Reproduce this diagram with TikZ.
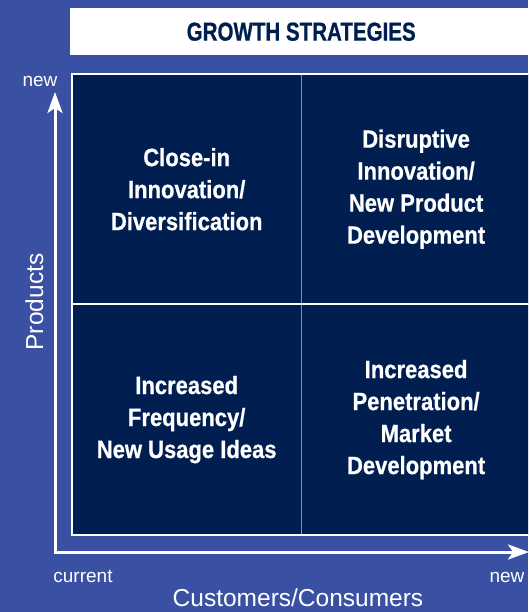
\documentclass[tikz,border=0pt]{standalone}
\usepackage{fontspec}
\setmainfont{Liberation Sans}
\newfontfamily\condfont[FakeStretch=0.88, BoldFeatures={FakeBold=0.6}]{Liberation Sans}
\newfontfamily\titlefont[FakeStretch=0.79, BoldFeatures={FakeBold=0.6}]{Liberation Sans}
\usetikzlibrary{positioning,arrows.meta}
\definecolor{bgblue}{HTML}{3A51A3}
\definecolor{navy}{HTML}{001E4F}
\definecolor{divgray}{HTML}{8390AE}

\begin{document}
\begin{tikzpicture}[x=1pt, y=-1pt,
    cell/.style={fill=navy, text=white, minimum width=229pt, minimum height=230pt,
      align=center, inner sep=0pt, font=\condfont\bfseries\fontsize{25}{32}\selectfont},
    axis/.style={white, line width=3pt,
      {Stealth[length=21pt,width=15pt,inset=5pt]}-{Stealth[length=21pt,width=15pt,inset=5pt]}},
    small/.style={text=white, inner sep=0pt, anchor=base, font=\fontsize{19}{22}\selectfont},
    big/.style={text=white, inner sep=0pt, anchor=base, font=\fontsize{24.5}{28}\selectfont}]
  \useasboundingbox[fill=bgblue] (0,0) rectangle (528,612);
  \clip (0,0) rectangle (528,612);

  \node[fill=white, text=navy, anchor=north west, minimum width=462pt, minimum height=47pt,
    font=\titlefont\bfseries\fontsize{26}{30}\selectfont] (title) at (70,8) {GROWTH STRATEGIES};

  % the four quadrants
  \node[cell, anchor=north west] (tl) at (72,74) {Close-in\\Innovation/\\Diversification};
  \node[cell, right=0pt of tl] (tr) {Disruptive\\Innovation/\\New Product\\Development};
  \node[cell, below=0pt of tl] (bl) {Increased\\Frequency/\\New Usage Ideas};
  \node[cell, right=0pt of bl] (br) {Increased\\Penetration/\\Market\\Development};
  \draw[divgray, line width=1.8pt] (tl.north east) -- (bl.south east);
  \draw[white, line width=2pt] (tl.south west) -- (tr.south east);
  \draw[white, line width=2.5pt] (tl.north west) rectangle (br.south east);

  % axes
  \coordinate (origin) at (55,552);
  \coordinate (ytip) at (55,92);
  \coordinate (xtip) at (529,552);
  \draw[axis] (ytip) -- (origin) -- (xtip);

  \node[small] (ynew) at (40,87) {new};
  \node[small] (xcur) at (83,582) {current};
  \node[small] (xnew) at (507,582) {new};
  \node[big] (xlabel) at (298,606) {Customers/Consumers};
  \node[big, rotate=90] (ylabel) at (43,302) {Products};
\end{tikzpicture}
\end{document}
